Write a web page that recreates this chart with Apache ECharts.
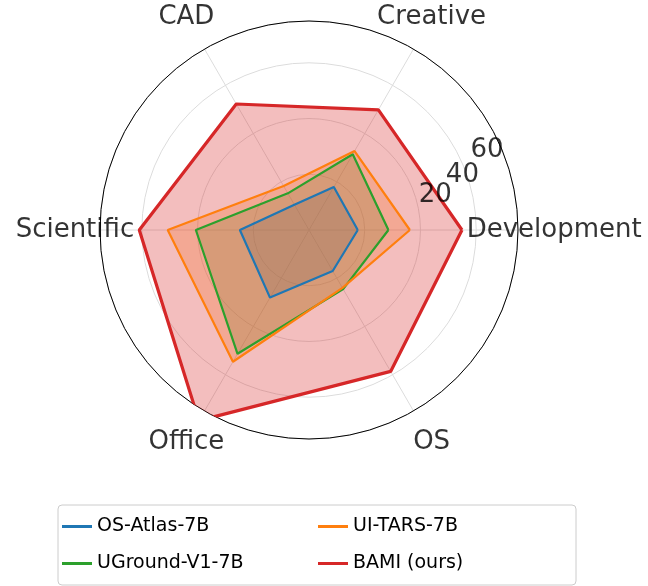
<!DOCTYPE html>
<html>
<head>
<meta charset="utf-8">
<script src="https://cdn.jsdelivr.net/npm/echarts@6/dist/echarts.min.js"></script>
<style>html,body{margin:0;padding:0;background:#fff}</style>
</head>
<body>
<div id="radar" style="width:648px;height:586px;"></div>
<script>
// categories go counter-clockwise starting from the right
const categories = ['Development', 'Creative', 'CAD', 'Scientific', 'Office', 'OS'];
const angles = [0, 60, 120, 180, 240, 300];
const radiusTicks = [20, 40, 60];

const osAtlas = [17.5, 17.8, 10.5, 24.8, 28.0, 17.0];
const uground = [28.5, 31.4, 15.2, 40.6, 51.3, 24.5];
const uiTars = [36.2, 32.7, 18.2, 50.7, 54.6, 24.0];
const bami = [54.9, 49.8, 52.2, 60.9, 79.0, 58.6];

const rMax = 75;

function closed(vals) {
  const pts = vals.map((v, i) => [v, angles[i]]);
  pts.push([vals[0], 360]);
  return pts;
}

function radarLine(name, vals, color, width, alpha) {
  return {
    name: name, type: 'line', coordinateSystem: 'polar',
    data: closed(vals), symbol: 'none', clip: false, z: 3,
    lineStyle: { color: color, width: width },
    itemStyle: { color: color },
    areaStyle: { color: color, opacity: alpha }
  };
}

const chart = echarts.init(document.getElementById('radar'));
const font = 'DejaVu Sans';

chart.setOption({
  animation: false,
  textStyle: { fontFamily: font },
  polar: { center: [309, 230], radius: 209 },
  angleAxis: {
    type: 'value', min: 0, max: 360, interval: 60, startAngle: 0, clockwise: false,
    axisLine: { lineStyle: { color: '#000', width: 1 } }, axisTick: { show: false }, axisLabel: { show: false },
    splitLine: { lineStyle: { color: '#dcdcdc', width: 1 } }
  },
  radiusAxis: {
    min: 0, max: rMax, interval: 20, axisLine: { show: false }, axisTick: { show: false },
    axisLabel: { show: false }, splitLine: { lineStyle: { color: '#dcdcdc', width: 1 } }
  },
  legend: {
    data: ['OS-Atlas-7B', 'UI-TARS-7B', 'UGround-V1-7B', 'BAMI (ours)'],
    left: 58, top: 505, width: 532, itemGap: 6,
    orient: 'horizontal',
    itemWidth: 30, itemHeight: 3, icon: 'rect',
    padding: [6, 8, 6, 4],
    borderColor: '#cccccc', borderWidth: 1, borderRadius: 4,
    textStyle: { fontSize: 19, color: '#000', width: 215, lineHeight: 31, fontFamily: font }
  },
  series: [
    radarLine('OS-Atlas-7B', osAtlas, '#1f77b4', 2.2, 0.25),
    radarLine('UGround-V1-7B', uground, '#2ca02c', 2.2, 0.25),
    radarLine('UI-TARS-7B', uiTars, '#ff7f0e', 2.2, 0.25),
    radarLine('BAMI (ours)', bami, '#d62728', 3.2, 0.3),
    {
      type: 'scatter', coordinateSystem: 'polar', symbolSize: 0, clip: false, silent: true, z: 10,
      data: categories.map((c, i) => ({ value: [i === 3 ? 84 : 88, angles[i]], name: c })),
      label: { show: true, position: 'inside', formatter: p => p.name, fontSize: 26, color: '#000' }
    },
    {
      // radial tick labels, placed like matplotlib's rlabels
      type: 'scatter', coordinateSystem: 'polar', symbolSize: 0, clip: false, silent: true, z: 10,
      data: radiusTicks.map(t => ({ value: [35.5 + 0.575 * t, 11 + 0.22 * t], name: String(t) })),
      label: { show: true, position: 'inside', formatter: p => p.name, fontSize: 26, color: '#000' }
    }
  ]
});
</script>
</body>
</html>
